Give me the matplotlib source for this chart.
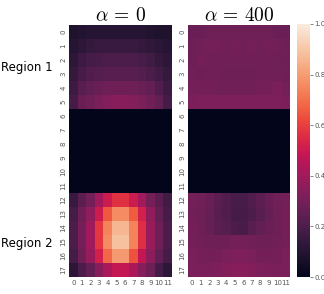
import numpy as np
import matplotlib
matplotlib.use("Agg")
import matplotlib.pyplot as plt
import seaborn as sns

plt.rcParams["mathtext.fontset"] = "cm"

# region 1 (rows 0-5), alpha = 0
r1_a0 = [
    [0.08, 0.09, 0.10, 0.10, 0.10, 0.10, 0.10, 0.10, 0.10, 0.09, 0.08, 0.08],
    [0.10, 0.12, 0.14, 0.15, 0.15, 0.15, 0.15, 0.15, 0.14, 0.13, 0.11, 0.10],
    [0.12, 0.16, 0.18, 0.19, 0.20, 0.20, 0.20, 0.20, 0.19, 0.17, 0.14, 0.12],
    [0.14, 0.19, 0.21, 0.22, 0.23, 0.23, 0.23, 0.23, 0.22, 0.20, 0.17, 0.14],
    [0.16, 0.23, 0.25, 0.27, 0.28, 0.28, 0.28, 0.28, 0.27, 0.25, 0.21, 0.16],
    [0.18, 0.27, 0.29, 0.31, 0.33, 0.34, 0.34, 0.33, 0.31, 0.29, 0.25, 0.18],
]
# region 2 (rows 12-17), alpha = 0
r2_a0 = [
    [0.15, 0.24, 0.30, 0.40, 0.50, 0.57, 0.57, 0.50, 0.40, 0.30, 0.24, 0.17],
    [0.18, 0.28, 0.36, 0.50, 0.65, 0.76, 0.76, 0.66, 0.52, 0.36, 0.26, 0.19],
    [0.20, 0.30, 0.40, 0.58, 0.74, 0.86, 0.86, 0.74, 0.56, 0.38, 0.28, 0.20],
    [0.20, 0.30, 0.40, 0.58, 0.76, 0.89, 0.89, 0.74, 0.56, 0.38, 0.28, 0.20],
    [0.18, 0.28, 0.38, 0.52, 0.68, 0.79, 0.79, 0.64, 0.48, 0.35, 0.25, 0.18],
    [0.12, 0.20, 0.26, 0.34, 0.42, 0.48, 0.48, 0.42, 0.34, 0.28, 0.18, 0.12],
]
# region 1, alpha = 400
r1_a400 = [
    [0.27, 0.27, 0.28, 0.28, 0.28, 0.28, 0.28, 0.28, 0.28, 0.28, 0.27, 0.27],
    [0.28, 0.29, 0.30, 0.30, 0.29, 0.30, 0.29, 0.30, 0.29, 0.30, 0.29, 0.28],
    [0.28, 0.30, 0.29, 0.29, 0.29, 0.29, 0.29, 0.29, 0.29, 0.29, 0.28, 0.28],
    [0.29, 0.28, 0.29, 0.29, 0.28, 0.28, 0.28, 0.28, 0.29, 0.29, 0.29, 0.28],
    [0.30, 0.30, 0.30, 0.29, 0.29, 0.29, 0.29, 0.29, 0.30, 0.30, 0.31, 0.30],
    [0.31, 0.32, 0.32, 0.32, 0.32, 0.32, 0.32, 0.32, 0.32, 0.32, 0.32, 0.31],
]
# region 2, alpha = 400
r2_a400 = [
    [0.30, 0.29, 0.27, 0.24, 0.21, 0.19, 0.19, 0.21, 0.24, 0.27, 0.29, 0.30],
    [0.29, 0.28, 0.26, 0.23, 0.21, 0.18, 0.18, 0.20, 0.23, 0.26, 0.28, 0.30],
    [0.30, 0.28, 0.26, 0.24, 0.22, 0.20, 0.19, 0.23, 0.25, 0.27, 0.28, 0.30],
    [0.30, 0.29, 0.28, 0.28, 0.28, 0.30, 0.30, 0.29, 0.28, 0.28, 0.29, 0.30],
    [0.31, 0.30, 0.30, 0.30, 0.31, 0.32, 0.32, 0.31, 0.30, 0.30, 0.30, 0.31],
    [0.31, 0.31, 0.31, 0.32, 0.33, 0.34, 0.34, 0.33, 0.32, 0.31, 0.31, 0.31],
]
# rows 6-11 carry no signal
gap = [[0.0] * 12 for _ in range(6)]

titles = [r"$\alpha\,=\,0$", r"$\alpha\,=\,400$"]
region_labels = ["Region 1", "Region 2"]

data = [np.array(r1_a0 + gap + r2_a0), np.array(r1_a400 + gap + r2_a400)]

fig = plt.figure(figsize=(3.24, 2.94), dpi=100)
W, H = 324, 294
ax1 = fig.add_axes([69 / W, 1 - 277 / H, 103 / W, 252 / H])
ax2 = fig.add_axes([188 / W, 1 - 277 / H, 102 / W, 252 / H])
cax = fig.add_axes([297 / W, 1 - 277 / H, 13 / W, 253 / H])

for i, ax in enumerate([ax1, ax2]):
    sns.heatmap(data[i], ax=ax, cmap="rocket", vmin=0, vmax=1,
                xticklabels=True, yticklabels=True,
                cbar=(i == 0), cbar_ax=cax if i == 0 else None)
    ax.set_title(titles[i], fontsize=14, pad=3)
    ax.tick_params(axis="both", labelsize=5, length=0, pad=2, colors="#555555")
    ax.set_yticklabels(ax.get_yticklabels(), rotation=90, va="center")
    ax.set_xticklabels(ax.get_xticklabels(), rotation=0)

cax.tick_params(labelsize=5, length=2, width=0.5, pad=1, colors="#555555")
cax.set_yticks([0.0, 0.2, 0.4, 0.6, 0.8, 1.0])

fig.text(1 / W, 1 - 67 / H, region_labels[0], fontsize=8.5, va="center", ha="left")
fig.text(1 / W, 1 - 243 / H, region_labels[1], fontsize=8.5, va="center", ha="left")

fig.savefig("out.png", dpi=100)
